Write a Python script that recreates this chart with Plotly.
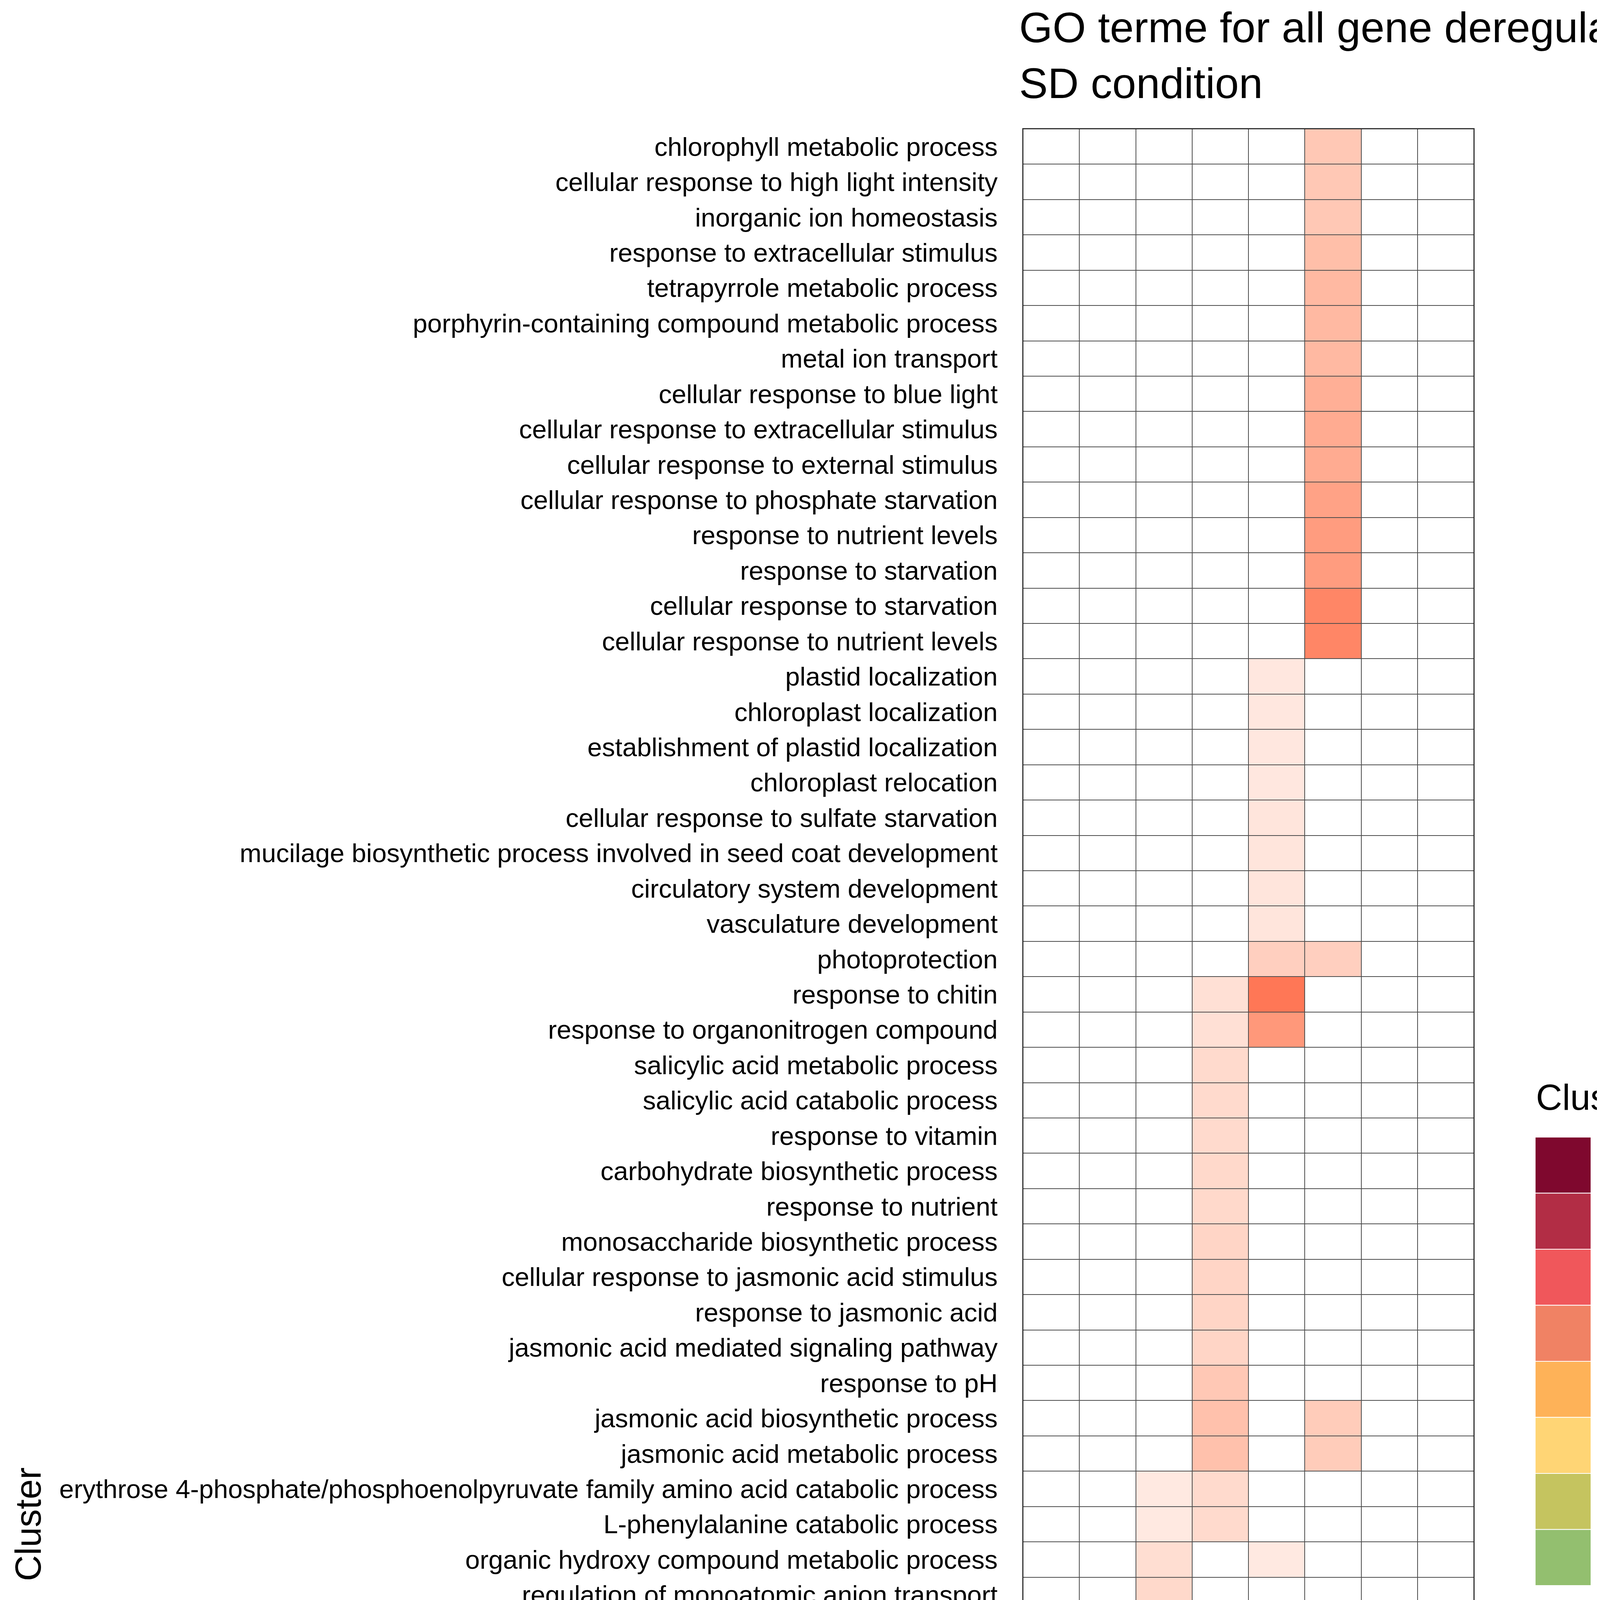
"""
    GO term heatmap: -log10(FDR) of enriched biological processes per gene cluster (SD condition)
"""

##########==========##########==========##########==========##########==========##########==========
## HEADER
import plotly.graph_objects as go

W, H = 4500, 7800
FONT = 'Liberation Sans, Arial, sans-serif'

go_terms = [
    'chlorophyll metabolic process', 'cellular response to high light intensity',
    'inorganic ion homeostasis', 'response to extracellular stimulus',
    'tetrapyrrole metabolic process', 'porphyrin-containing compound metabolic process',
    'metal ion transport', 'cellular response to blue light',
    'cellular response to extracellular stimulus', 'cellular response to external stimulus',
    'cellular response to phosphate starvation', 'response to nutrient levels',
    'response to starvation', 'cellular response to starvation',
    'cellular response to nutrient levels', 'plastid localization', 'chloroplast localization',
    'establishment of plastid localization', 'chloroplast relocation',
    'cellular response to sulfate starvation',
    'mucilage biosynthetic process involved in seed coat development',
    'circulatory system development', 'vasculature development', 'photoprotection',
    'response to chitin', 'response to organonitrogen compound',
    'salicylic acid metabolic process', 'salicylic acid catabolic process', 'response to vitamin',
    'carbohydrate biosynthetic process', 'response to nutrient', 'monosaccharide biosynthetic process',
    'cellular response to jasmonic acid stimulus', 'response to jasmonic acid',
    'jasmonic acid mediated signaling pathway', 'response to pH',
    'jasmonic acid biosynthetic process', 'jasmonic acid metabolic process',
    'erythrose 4-phosphate/phosphoenolpyruvate family amino acid catabolic process',
    'L-phenylalanine catabolic process', 'organic hydroxy compound metabolic process',
    'regulation of monoatomic anion transport', 'amino acid transport',
    'glycosyl compound metabolic process', 'translational elongation',
    'phenylpropanoid biosynthetic process', 'ribonucleoprotein complex biogenesis',
    'phenylpropanoid metabolic process', 'amino acid biosynthetic process',
    'alpha-amino acid biosynthetic process', 'ribosome biogenesis',
    'protein-RNA complex organization', 'protein-RNA complex assembly', 'organelle assembly',
    'alpha-amino acid metabolic process', 'ribosome assembly', 'cytosolic ribosome assembly',
    'L-ascorbic acid biosynthetic process', 'L-ascorbic acid metabolic process',
    'phloem development', 'programmed cell death', 'phloem or xylem histogenesis',
    'hormone metabolic process', 'DNA unwinding involved in DNA replication',
    'DNA replication initiation', 'plant-type cell wall organization or biogenesis',
    'protein-DNA complex organization', 'protein-DNA complex assembly',
    'nucleosome organization', 'nucleosome assembly', 'DNA conformation change',
    'hydrogen peroxide metabolic process', 'shade avoidance',
    'regulation of systemic acquired resistance', 'hydrogen peroxide catabolic process',
    'cell recognition', 'systemic acquired resistance', 'recognition of pollen',
    'pollen-pistil interaction',
]

clusters = ['1', '2', '3', '4', '5', '6', '7', '8']
cluster_colors = ['#7F082E', '#B22D45', '#F0575B', '#F08264',
                  '#FEB258', '#FFD575', '#C5C45F', '#93BF6F']

## enriched terms per cluster: row number in go_terms (0 = top) and -log10(FDR)
c1_rows = [71, 72, 73, 74, 75, 76, 77, 78]
c1_vals = [1.7, 2.0, 2.0, 2.0, 5.1, 5.1, 5.2, 5.3]
c2_rows = [57, 58, 59, 60, 61, 62, 63, 64, 65, 66, 67, 68, 69, 70]
c2_vals = [1.3, 1.3, 2.8, 2.8, 3.1, 3.1, 3.5, 3.5, 4.0, 4.6, 4.6, 6.2, 6.2, 10.4]
c3_rows = [38, 39, 40, 41, 42, 43, 44, 45, 46, 47, 48, 49, 50, 51, 52, 53, 54, 55, 56, 74]
c3_vals = [1.2, 1.2, 1.8, 2.1, 2.1, 2.3, 2.3, 2.6, 2.7, 3.0, 3.2, 3.3, 3.5, 4.0, 4.0, 4.0,
           4.1, 5.5, 7.1, 1.5]
c4_rows = [24, 25, 26, 27, 28, 29, 30, 31, 32, 33, 34, 35, 36, 37, 38, 39, 45, 47, 57, 58,
           75, 77, 78]
c4_vals = [1.7, 1.7, 2.0, 2.0, 2.0, 2.1, 2.1, 2.3, 2.3, 2.3, 2.3, 3.0, 3.4, 3.4, 2.0, 2.0,
           1.3, 1.6, 2.4, 2.4, 1.7, 1.8, 1.8]
c5_rows = [15, 16, 17, 18, 19, 20, 21, 22, 23, 24, 25, 40]
c5_vals = [1.3, 1.3, 1.3, 1.3, 1.4, 1.4, 1.4, 1.4, 2.6, 7.1, 5.5, 1.2]
c6_rows = [0, 1, 2, 3, 4, 5, 6, 7, 8, 9, 10, 11, 12, 13, 14, 23, 36, 37]
c6_vals = [3.0, 3.0, 3.0, 3.5, 3.8, 3.8, 3.8, 4.3, 4.5, 4.5, 5.0, 5.3, 5.3, 6.4, 6.4,
           2.6, 2.8, 2.8]
c7_rows, c7_vals = [], []
c8_rows, c8_vals = [], []

fdr_ticks = [0, 2.5, 5, 7.5, 10]

##########==========##########==========##########==========##########==========##########==========
## COMPONENT FUNCTIONS


def _lin(c):
    c = c / 255
    return c / 12.92 if c <= 0.04045 else ((c + 0.055) / 1.055) ** 2.4


def _gam(c):
    c = min(1.0, max(0.0, c))
    c = 12.92 * c if c <= 0.0031308 else 1.055 * c ** (1 / 2.4) - 0.055
    return round(c * 255)


REF = (0.95047, 1.0, 1.08883)


def to_lab(rgb):
    r, g, b = [_lin(v) for v in rgb]
    x = 0.4124 * r + 0.3576 * g + 0.1805 * b
    y = 0.2126 * r + 0.7152 * g + 0.0722 * b
    z = 0.0193 * r + 0.1192 * g + 0.9505 * b
    f = lambda t: t ** (1 / 3) if t > 0.008856 else 7.787 * t + 16 / 116
    fx, fy, fz = f(x / REF[0]), f(y / REF[1]), f(z / REF[2])
    return 116 * fy - 16, 500 * (fx - fy), 200 * (fy - fz)


def from_lab(lab):
    L, a, b = lab
    fy = (L + 16) / 116
    fx, fz = fy + a / 500, fy - b / 200
    finv = lambda t: t ** 3 if t ** 3 > 0.008856 else (t - 16 / 116) / 7.787
    x, y, z = REF[0] * finv(fx), REF[1] * finv(fy), REF[2] * finv(fz)
    r = 3.2406 * x - 1.5372 * y - 0.4986 * z
    g = -0.9689 * x + 1.8758 * y + 0.0415 * z
    bl = 0.0557 * x - 0.2040 * y + 1.0570 * z
    return 'rgb(%d,%d,%d)' % (_gam(r), _gam(g), _gam(bl))


def lab_gradient(low, high, n = 21):
    """
        Purpose: white -> red gradient interpolated in Lab space (like ggplot's scale_fill_gradient)
    """
    lo, hi = to_lab(low), to_lab(high)
    return [[i / (n - 1), from_lab([lo[k] + (hi[k] - lo[k]) * i / (n - 1) for k in range(3)])]
            for i in range(n)]


def build_matrix():
    """
        Purpose: term x cluster matrix of -log10(FDR), zero where not enriched
    """
    z = [[0.0] * len(clusters) for _ in go_terms]
    per_cluster = [(c1_rows, c1_vals), (c2_rows, c2_vals), (c3_rows, c3_vals), (c4_rows, c4_vals),
                   (c5_rows, c5_vals), (c6_rows, c6_vals), (c7_rows, c7_vals), (c8_rows, c8_vals)]
    for j, (rows, vals) in enumerate(per_cluster):
        for r, v in zip(rows, vals):
            z[r][j] = v
    return z


def px_x(p):
    return p / W


def px_y(p):
    return 1 - p / H


def legend_title(text, y_mid):
    return dict(
        text = text, xref = 'paper', yref = 'paper',
        x = px_x(LEG_X0), xanchor = 'left', y = px_y(y_mid), yanchor = 'middle',
        showarrow = False, font = dict(size = 93, family = FONT, color = 'black'),
    )


##########==========##########==========##########==========##########==========##########==========
## TOP-LEVEL

z = build_matrix()
zmax = max(max(row) for row in z)

LEG_X0, LEG_X1 = 3922, 4065

fig = go.Figure()

## main heatmap
fig.add_trace(go.Heatmap(
    z = z, x = clusters, y = go_terms,
    zmin = 0, zmax = zmax,
    colorscale = lab_gradient((255, 255, 255), (255, 0, 0)),
    xgap = 2, ygap = 2, hoverinfo = 'skip',
    colorbar = dict(
        x = px_x(LEG_X0), xanchor = 'left', xpad = 0,
        y = px_y(5081), yanchor = 'bottom', ypad = 0,
        len = 714, lenmode = 'pixels',
        thickness = LEG_X1 - LEG_X0, thicknessmode = 'pixels',
        outlinewidth = 0,
        tickvals = fdr_ticks, tickformat = '.1f',
        ticks = 'outside', ticklen = 42, tickcolor = 'white',
        tickfont = dict(size = 69, family = FONT, color = 'black'),
    ),
))

## cluster strip under the heatmap
fig.add_trace(go.Bar(
    x = clusters, y = [1] * len(clusters), width = 0.94,
    marker = dict(color = cluster_colors, line = dict(color = 'black', width = 3)),
    xaxis = 'x2', yaxis = 'y2', showlegend = False, hoverinfo = 'skip',
))

## cluster legend swatches
fig.add_trace(go.Bar(
    y = clusters, x = [1] * len(clusters), width = 1, orientation = 'h',
    marker = dict(color = cluster_colors, line = dict(color = 'white', width = 2)),
    xaxis = 'x3', yaxis = 'y3', showlegend = False, hoverinfo = 'skip',
))

tick_font = dict(size = 67, family = FONT, color = 'black')

fig.update_layout(
    width = W, height = H,
    margin = dict(l = 0, r = 0, t = 0, b = 0),
    paper_bgcolor = 'white', plot_bgcolor = 'white',
    font = dict(family = FONT, color = 'black'),
    title = dict(
        text = 'GO terme for all gene deregulated in<br>SD condition',
        font = dict(size = 110, family = FONT, color = 'black'),
        x = px_x(2601), xanchor = 'left', xref = 'paper',
        y = 1 - 100 / H, yanchor = 'top', yref = 'container',
    ),
    xaxis = dict(
        domain = [px_x(2611), px_x(3765)], anchor = 'y',
        categoryorder = 'array', categoryarray = clusters,
        showticklabels = False, showgrid = False, zeroline = False, ticks = '',
    ),
    yaxis = dict(
        domain = [px_y(7466), px_y(322)], anchor = 'x',
        categoryorder = 'array', categoryarray = go_terms, autorange = 'reversed',
        showgrid = False, zeroline = False, ticks = '',
        tickfont = tick_font, ticklabelstandoff = 64,
        title = dict(text = 'Cluster', font = dict(size = 92, family = FONT), standoff = 16),
        automargin = False,
    ),
    xaxis2 = dict(
        domain = [px_x(2611), px_x(3765)], anchor = 'y2', matches = 'x',
        categoryorder = 'array', categoryarray = clusters,
        showgrid = False, zeroline = False, ticks = '',
        tickfont = tick_font, ticklabelstandoff = 17,
        title = dict(text = 'Biological process', font = dict(size = 92, family = FONT),
                     standoff = 27),
        automargin = False,
    ),
    yaxis2 = dict(
        domain = [px_y(7541), px_y(7487)], anchor = 'x2',
        range = [0, 1], visible = False, fixedrange = True,
    ),
    xaxis3 = dict(
        domain = [px_x(LEG_X0), px_x(LEG_X1)], anchor = 'y3',
        range = [0, 1], visible = False,
    ),
    yaxis3 = dict(
        domain = [px_y(4051), px_y(2903)], anchor = 'x3', side = 'right',
        categoryorder = 'array', categoryarray = clusters, autorange = 'reversed',
        showgrid = False, zeroline = False, showline = False, ticks = '',
        tickfont = dict(size = 69, family = FONT, color = 'black'),
        ticklabelstandoff = 50, automargin = False,
    ),
    shapes = [dict(
        type = 'rect', xref = 'x domain', yref = 'y domain', x0 = 0, x1 = 1, y0 = 0, y1 = 1,
        fillcolor = '#4d4d4d', line = dict(color = '#333333', width = 4), layer = 'below',
    )],
    annotations = [legend_title('Cluster', 2801), legend_title('-log10(FDR)', 4265)],
)

fig.write_html('out.html')
